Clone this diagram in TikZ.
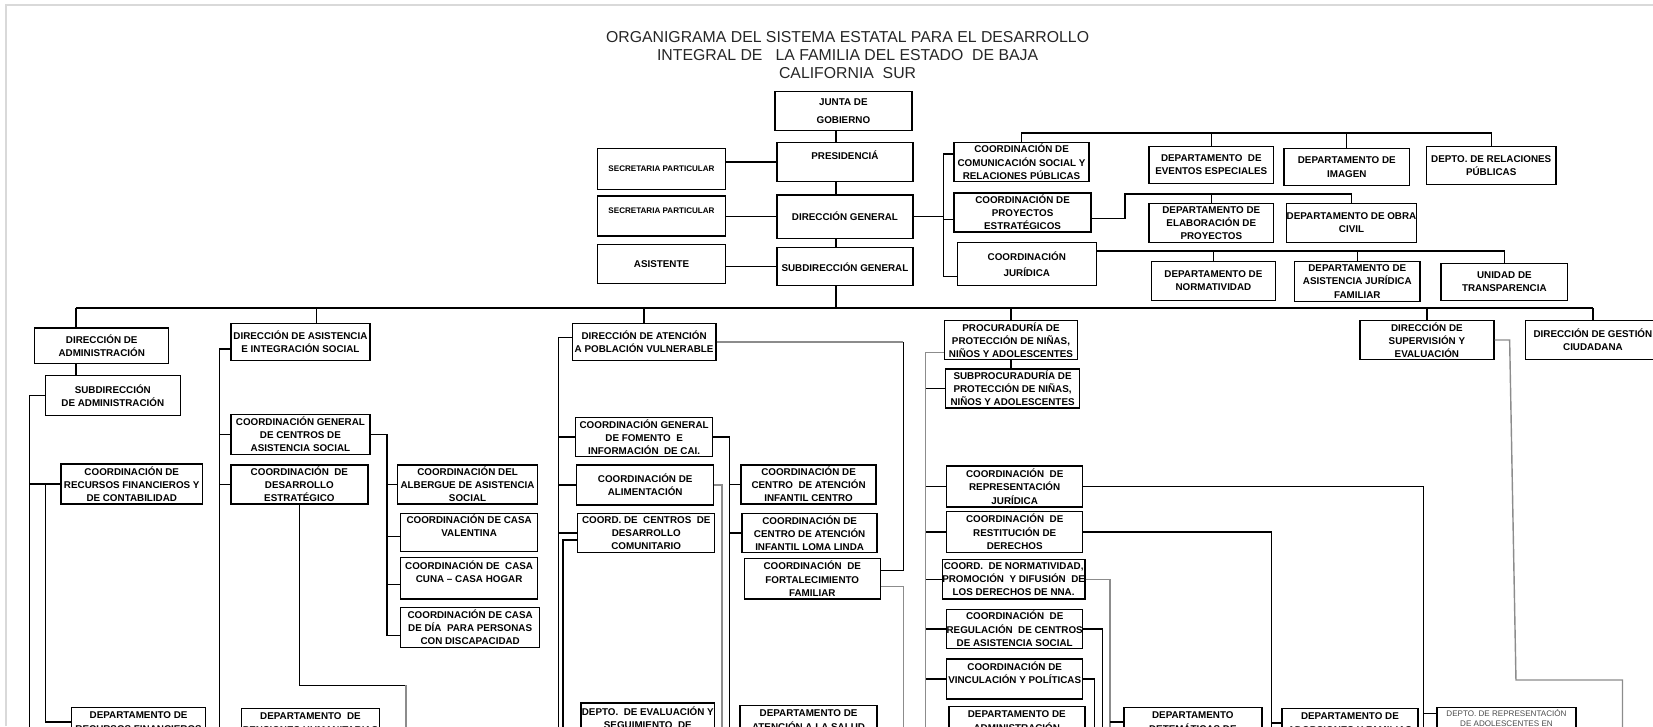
\documentclass[tikz,border=0pt]{standalone}
\usepackage{fontspec}
\setmainfont{Liberation Sans}
\newcommand\bx{\fontsize{5.6pt}{7.5pt}\selectfont\bfseries}
\newcommand\sx{\fontsize{4.6pt}{6pt}\selectfont\bfseries}
\tikzset{%
  ob/.style 2 args={draw, line width=0.8pt, minimum width=#1*0.6pt, minimum height=#2*0.6pt, inner sep=0pt, align=center, font=\bx},
  ln/.style={line width=0.8pt},
  gl/.style={line width=0.8pt, black!45}
}

\begin{document}
\begin{tikzpicture}[x=0.6pt, y=-0.6pt]
\useasboundingbox (0,0) rectangle (1568,689);
\clip (0,0) rectangle (1568,689);
\draw [black!15, line width=1.2pt] (6,689) -- (6,5) -- (1568,5);

\node [align=center, font=\fontsize{9pt}{10.2pt}\selectfont, text=black!85] (title) at (804,52)
  {ORGANIGRAMA DEL SISTEMA ESTATAL PARA EL DESARROLLO\\INTEGRAL DE \ \ LA FAMILIA DEL ESTADO \ DE BAJA\\CALIFORNIA \ SUR};

% cabeza
\node [ob={130}{37}] (junta) at (800,105.5) {JUNTA DE\\[2.5pt]GOBIERNO};
\node [ob={129}{37}] (pres) at (801.5,153.5) {PRESIDENCIÁ\\\mbox{}};
\node [ob={129}{41}] (dg) at (801.5,205.5) {DIRECCIÓN GENERAL};
\node [ob={129}{36}] (subdg) at (801.5,253) {SUBDIRECCIÓN GENERAL};
\node [ob={121}{39}, font=\sx] (sec1) at (627.5,160.5) {SECRETARIA PARTICULAR};
\node [ob={121}{38}, font=\sx] (sec2) at (627.5,205) {SECRETARIA PARTICULAR\\\mbox{}};
\node [ob={121}{37}] (asist) at (627.5,250.5) {ASISTENTE};

\node [ob={128}{37}] (com) at (969,153.5) {COORDINACIÓN DE\\COMUNICACIÓN SOCIAL Y\\RELACIONES PÚBLICAS};
\node [ob={130}{37}] (proy) at (970,201.5) {COORDINACIÓN DE\\PROYECTOS\\ESTRATÉGICOS};
\node [ob={132}{41}] (jur) at (974,250.5) {COORDINACIÓN\\[2pt]JURÍDICA};
\node [ob={118}{35}] (event) at (1149,156.5) {DEPARTAMENTO \ DE\\EVENTOS ESPECIALES};
\node [ob={119}{35}] (imagen) at (1277.5,158.5) {DEPARTAMENTO DE\\IMAGEN};
\node [ob={123}{36}] (relpub) at (1414.5,157) {DEPTO. DE RELACIONES\\PÚBLICAS};
\node [ob={118}{37}] (elab) at (1149,211.5) {DEPARTAMENTO DE\\ELABORACIÓN DE\\PROYECTOS};
\node [ob={120}{37}] (obra) at (1282,211.5) {DEPARTAMENTO DE OBRA\\CIVIL};
\node [ob={118}{37}] (norm) at (1151,266.5) {DEPARTAMENTO DE\\NORMATIVIDAD};
\node [ob={119}{38}] (asisjur) at (1287.5,267) {DEPARTAMENTO DE\\ASISTENCIA JURÍDICA\\FAMILIAR};
\node [ob={120}{35}] (transp) at (1427,267.5) {UNIDAD DE\\TRANSPARENCIA};

% direcciones
\node [ob={127}{34}] (admin) at (96.5,328) {DIRECCIÓN DE\\ADMINISTRACIÓN};
\node [ob={128}{38}] (subadm) at (107,375) {SUBDIRECCIÓN\\DE ADMINISTRACIÓN};
\node [ob={134}{38}] (recfin) at (125,459) {COORDINACIÓN DE\\RECURSOS FINANCIEROS Y\\DE CONTABILIDAD};
\node [ob={127}{28}] (deprf) at (131.5,685) {DEPARTAMENTO DE\\RECURSOS FINANCIEROS};

\node [ob={132}{35}] (asoc) at (285,324.5) {DIRECCIÓN DE ASISTENCIA\\E INTEGRACIÓN SOCIAL};
\node [ob={132}{38}] (cgcas) at (285,412) {COORDINACIÓN GENERAL\\DE CENTROS DE\\ASISTENCIA SOCIAL};
\node [ob={130}{37}] (desest) at (284,459.5) {COORDINACIÓN \ DE\\DESARROLLO\\ESTRATÉGICO};
\node [ob={133}{37}] (albergue) at (443.5,459.5) {COORDINACIÓN DEL\\ALBERGUE DE ASISTENCIA\\SOCIAL};
\node [ob={130}{36}] (valentina) at (445,505) {COORDINACIÓN DE CASA\\VALENTINA\\\mbox{}};
\node [ob={130}{39}] (cuna) at (445,548.5) {COORDINACIÓN DE \ CASA\\CUNA – CASA HOGAR\\\mbox{}};
\node [ob={132}{38}] (dia) at (446,595) {COORDINACIÓN DE CASA\\DE DÍA \ PARA PERSONAS\\CON DISCAPACIDAD};
\node [ob={131}{28}] (pens) at (294.5,686) {DEPARTAMENTO \ DE\\PENSIONES HUMANITARIAS};

\node [ob={136}{35}] (pvul) at (611,324.5) {DIRECCIÓN DE ATENCIÓN\\A POBLACIÓN VULNERABLE};
\node [ob={130}{37}] (cgfom) at (611,414.5) {COORDINACIÓN GENERAL\\DE FOMENTO \ E\\INFORMACIÓN \ DE CAI.};
\node [ob={130}{38}] (alim) at (612,460) {COORDINACIÓN DE\\ALIMENTACIÓN};
\node [ob={130}{37}] (cdc) at (613,505.5) {COORD. DE \ CENTROS \ DE\\DESARROLLO\\COMUNITARIO};
\node [ob={128}{37}] (caic) at (767,459.5) {COORDINACIÓN DE\\CENTRO \ DE ATENCIÓN\\INFANTIL CENTRO};
\node [ob={128}{37}] (loma) at (768,505.5) {COORDINACIÓN DE\\CENTRO DE ATENCIÓN\\INFANTIL LOMA LINDA};
\node [ob={129}{38}] (fort) at (770.5,549) {COORDINACIÓN \ DE\\FORTALECIMIENTO\\FAMILIAR};
\node [ob={127}{28}] (evalseg) at (614.5,681) {DEPTO. \ DE EVALUACIÓN Y\\SEGUIMIENTO \ DE};
\node [ob={130}{28}] (salud) at (767,683) {DEPARTAMENTO DE\\ATENCIÓN A LA SALUD};

\node [ob={126}{37}] (proc) at (959,322.5) {PROCURADURÍA DE\\PROTECCIÓN DE NIÑAS,\\NIÑOS Y ADOLESCENTES};
\node [ob={127}{37}] (subproc) at (960.5,368.5) {SUBPROCURADURÍA DE\\PROTECCIÓN DE NIÑAS,\\NIÑOS Y ADOLESCENTES};
\node [ob={129}{39}] (rep) at (962.5,461.5) {COORDINACIÓN \ DE\\REPRESENTACIÓN\\JURÍDICA};
\node [ob={129}{39}] (rest) at (962.5,504.5) {COORDINACIÓN \ DE\\RESTITUCIÓN DE\\DERECHOS};
\node [ob={129}{37}] (normnna) at (961.5,549.5) {COORD. \ DE NORMATIVIDAD,\\PROMOCIÓN \ Y DIFUSIÓN \ DE\\LOS DERECHOS DE NNA.};
\node [ob={129}{37}] (reg) at (962.5,596.5) {COORDINACIÓN \ DE\\REGULACIÓN \ DE CENTROS\\DE ASISTENCIA SOCIAL};
\node [ob={129}{38}] (vinc) at (962.5,644) {COORDINACIÓN DE\\VINCULACIÓN Y POLÍTICAS\\\mbox{}};
\node [ob={129}{28}] (admdep) at (964.5,684) {DEPARTAMENTO DE\\ADMINISTRACIÓN};
\node [ob={131}{28}] (detem) at (1131.5,685) {DEPARTAMENTO\\DETEMÁTICAS DE};
\node [ob={129}{28}] (adop) at (1280.5,686) {DEPARTAMENTO DE\\ADOPCIONES Y FAMILIAS};
\node [ob={132}{20}, font=\fontsize{4.6pt}{6pt}\selectfont, text=black!70] (deprep) at (1429,681) {DEPTO. DE REPRESENTACIÓN\\DE ADOLESCENTES EN};

\node [ob={127}{37}] (superv) at (1353.5,322.5) {DIRECCIÓN DE\\SUPERVISIÓN Y\\EVALUACIÓN};
\node [ob={128}{37}] (gestion) at (1511,322.5) {DIRECCIÓN DE GESTIÓN\\CIUDADANA};

% lineas de arriba
\coordinate (sp) at (793,0);
\coordinate (bus) at (0,292);
\coordinate (cb) at (895,0);
\coordinate (tb) at (0,126);
\coordinate (jb) at (0,238);
\coordinate (kp) at (1067,184);
\draw [ln] (junta.south -| sp) -- (pres.north -| sp);
\draw [ln] (pres.south -| sp) -- (dg.north -| sp);
\draw [ln] (dg.south -| sp) -- (subdg.north -| sp);
\draw [ln] (subdg.south -| sp) -- (bus -| sp);
\draw [ln] (sec1.east |- pres.west) -- (pres.west);
\draw [ln] (sec2.east |- dg.west) -- (dg.west);
\draw [ln] (asist.east |- subdg.west) -- (subdg.west);

\coordinate (kcom) at ([yshift=4.5pt]com.west);
\coordinate (kproy) at ([yshift=-4pt]proy.west);
\coordinate (kjur) at ([yshift=-7pt]jur.west);
\draw [ln] (dg.east) -- (dg.east -| cb);
\draw [ln] (kcom) -- (kcom -| cb) -- (kjur -| cb) -- (kjur);
\draw [ln] (kproy) -- (kproy -| cb);

\draw [ln] (com.north) -- (com.north |- tb) -- (relpub.north |- tb) -- (relpub.north);
\foreach \n in {event,imagen} \draw [ln] (\n.north) -- (\n.north |- tb);

\coordinate (kproyr) at ([yshift=-3.5pt]proy.east);
\draw [ln] (kproyr) -- (kproyr -| kp) -- (kp) -- (kp -| obra.north) -- (obra.north);
\draw [ln] (elab.north) -- (elab.north |- kp);

\draw [ln] (jur.east |- jb) -- (transp.north |- jb) -- (transp.north);
\foreach \n in {norm,asisjur} \draw [ln] (\n.north) -- (\n.north |- jb);

% linea general
\coordinate (dA) at (72,0);
\coordinate (dB) at (300,0);
\draw [ln] (bus -| dA) -- (bus -| gestion.north);
\draw [ln] (bus -| dA) -- (admin.north -| dA);
\draw [ln] (bus -| dB) -- (asoc.north -| dB);
\foreach \n in {pvul,proc,superv,gestion} \draw [ln] (\n.north) -- (\n.north |- bus);

% administracion
\coordinate (aL) at (28,700);
\coordinate (aM) at (43,0);
\draw [ln] (admin.south -| dA) -- (subadm.north -| dA);
\draw [ln] (subadm.west) -| (aL);
\draw [ln] (recfin.west -| aL) -- (recfin.west);
\draw [ln] (recfin.west -| aM) |- (deprf.west);

% asistencia social
\coordinate (bL) at (208,700);
\coordinate (cR) at (367,603);
\coordinate (eD) at (385,650);
\draw [ln] ([yshift=-4pt]asoc.west) -| (bL);
\foreach \n in {cgcas,desest} \draw [ln] (\n.west) -- (\n.west -| bL);
\draw [ln] (cgcas.east) -| (cR) -- (cR -| dia.west);
\coordinate (kval) at ([yshift=-2.5pt]valentina.west);
\coordinate (kcuna) at ([yshift=-3.5pt]cuna.west);
\draw [ln] (albergue.west) -- (albergue.west -| cR);
\draw [ln] (kval) -- (kval -| cR);
\draw [ln] (kcuna) -- (kcuna -| cR);
\draw [ln] (desest.south) |- (eD);
\draw [gl] (eD) -- (eD |- bL);

% poblacion vulnerable
\coordinate (pR) at (857,700);
\coordinate (pL) at (530,700);
\coordinate (pL2) at (534,700);
\coordinate (fR) at (692,700);
\coordinate (aR) at (685,700);
\coordinate (kfort) at ([yshift=4.8pt]fort.east);
\coordinate (kfort2) at ([yshift=-4.5pt]fort.east);
\draw [gl] (pvul.east) -- (pvul.east -| pR);
\draw [ln] (pvul.east -| pR) -- (kfort -| pR) -- (kfort);
\draw [gl] (kfort2) -- (kfort2 -| pR) -- (pR);
\draw [ln] ([yshift=2.5pt]pvul.west) -| (pL);
\foreach \n in {cgfom,alim,cdc} \draw [ln] (\n.west) -- (\n.west -| pL);
\draw [ln] ([yshift=-4pt]cdc.west) -| (pL2);
\draw [ln] (cgfom.east) -| (fR);
\foreach \n in {caic,loma} \draw [ln] (\n.west) -- (\n.west -| fR);
\draw [gl] (alim.east) -| (aR);

% procuraduria
\coordinate (qL) at (878,700);
\coordinate (rR) at (1350,700);
\coordinate (sR) at (1206,700);
\coordinate (nR) at (1053,700);
\coordinate (gR) at (1046,700);
\coordinate (vR) at (1038,700);
\coordinate (kdr) at ([yshift=2.4pt]deprep.west);
\draw [ln] (proc.south) -- (proc.south |- subproc.north);
\draw [gl] ([yshift=-7pt]proc.west) -| (qL);
\foreach \n in {subproc,rep,rest,normnna,reg,vinc} \draw [ln] (\n.west) -- (\n.west -| qL);
\draw [ln] (rep.east) -| (rR);
\draw [ln] (kdr) -- (kdr -| rR);
\draw [ln] (rest.east) -| (sR);
\draw [ln] (adop.west) -- (adop.west -| sR);
\draw [gl] (normnna.east) -| (nR);
\draw [ln] (detem.west) -- (detem.west -| nR);
\draw [ln] (reg.east) -| (gR);
\draw [ln] (vinc.east) -| (vR);

% supervision
\coordinate (uA) at (1432,0);
\coordinate (u1) at (1438,645);
\coordinate (u2) at (1539,700);
\draw [gl] (superv.east) -- (superv.east -| uA) -- (u1) -| (u2);
\end{tikzpicture}
\end{document}
